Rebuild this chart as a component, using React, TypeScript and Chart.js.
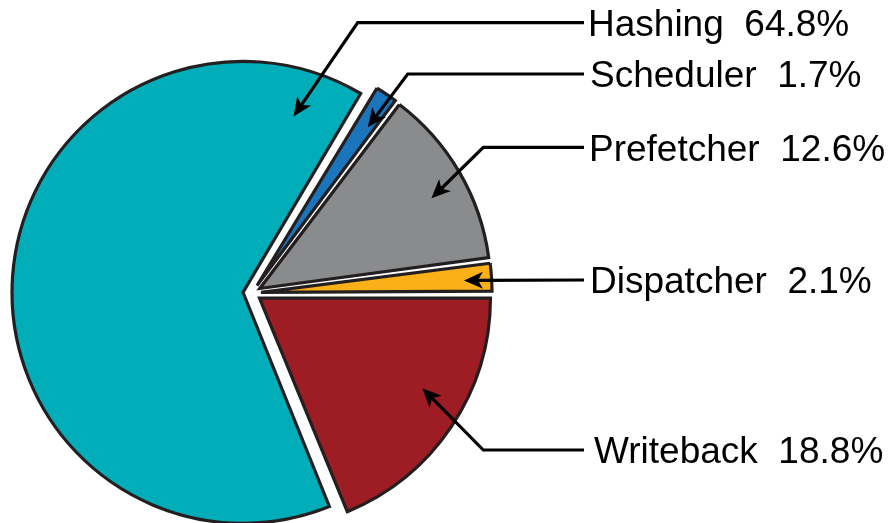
import React, { useEffect, useRef } from "react";
import { Chart, registerables } from "chart.js";

Chart.register(...registerables);

// Share of total time per pipeline stage (percent)
const categories = ["Hashing", "Scheduler", "Prefetcher", "Dispatcher", "Writeback"];
const shares = [64.8, 1.7, 12.6, 2.1, 18.8];
const sliceColors = ["#00adb9", "#1b75bc", "#8a8b8d", "#fbb017", "#9e1c23"];

// Callout layout: where each arrow lands inside its slice, and where its label sits
const calloutSweep = [0.936, 0.658, 0.556, 0.553, 0.428]; // fraction along the slice's sweep
const calloutDepth = [0.824, 0.866, 0.849, 0.911, 0.808]; // fraction of the radius
const elbowX: (number | null)[] = [357.7, 407.7, 483.3, null, 483.3];
const labelLineY = [22.7, 74, 147.3, 280, 450];
const labelX = [588, 590, 589, 590, 594];

const WIDTH = 895;
const HEIGHT = 523;
const RADIUS = 231;
const EXPLODE = 36; // Chart.js shifts each arc by offset / 4
const LINE_END_X = 584;
const FONT_SIZE = 37;

// Chart.js grows the radius of offset arcs depending on their sweep;
// pull it back so every slice keeps the same radius.
const evenRadius = {
  id: "evenRadius",
  afterDatasetUpdate(_chart: Chart, args: any) {
    const shift = EXPLODE / 4;
    for (const el of args.meta.data as any[]) {
      const fix = 1 - Math.sin(Math.min(Math.PI, el.circumference || 0));
      el.outerRadius -= shift * fix;
    }
  },
};

// Arrows from each label to its slice, plus the label text
const callouts = {
  id: "callouts",
  afterDraw(chart: Chart) {
    const ctx = chart.ctx;
    const meta = chart.getDatasetMeta(0);
    const shift = EXPLODE / 4;
    ctx.save();
    ctx.strokeStyle = "#000";
    ctx.fillStyle = "#000";
    ctx.lineWidth = 3.2;
    ctx.lineJoin = "miter";
    ctx.lineCap = "butt";
    meta.data.forEach((el: any, i: number) => {
      const mid = (el.startAngle + el.endAngle) / 2;
      const ax = el.x + Math.cos(mid) * shift;
      const ay = el.y + Math.sin(mid) * shift;
      const ang = el.startAngle + calloutSweep[i] * (el.endAngle - el.startAngle);
      const r = calloutDepth[i] * el.outerRadius;
      const tx = ax + Math.cos(ang) * r;
      const ty = ay + Math.sin(ang) * r;

      const y = labelLineY[i];
      const ex = elbowX[i];
      const fromX = ex === null ? LINE_END_X : ex;
      const fromY = y;
      const len = Math.hypot(tx - fromX, ty - fromY);
      const ux = (tx - fromX) / len;
      const uy = (ty - fromY) / len;
      const px = -uy;
      const py = ux;
      const headLen = 19;
      const headHalf = 8.5;
      const notch = 14;

      ctx.beginPath();
      ctx.moveTo(LINE_END_X, y);
      if (ex !== null) ctx.lineTo(ex, y);
      ctx.lineTo(tx - ux * notch, ty - uy * notch);
      ctx.stroke();

      ctx.beginPath();
      ctx.moveTo(tx, ty);
      ctx.lineTo(tx - ux * headLen + px * headHalf, ty - uy * headLen + py * headHalf);
      ctx.lineTo(tx - ux * notch, ty - uy * notch);
      ctx.lineTo(tx - ux * headLen - px * headHalf, ty - uy * headLen - py * headHalf);
      ctx.closePath();
      ctx.fill();

      ctx.font = `${FONT_SIZE}px "Liberation Sans", Arial, Helvetica, sans-serif`;
      ctx.textAlign = "left";
      ctx.textBaseline = "alphabetic";
      ctx.fillText(
        `${categories[i]}  ${shares[i].toFixed(1)}%`,
        labelX[i],
        y + FONT_SIZE * 0.716 / 2
      );
    });
    ctx.restore();
  },
};

export default function App() {
  const canvasRef = useRef<HTMLCanvasElement | null>(null);

  useEffect(() => {
    if (!canvasRef.current) return;
    const total = shares.reduce((a, b) => a + b, 0);
    // Writeback (last slice) begins at 3 o'clock; the rest follow clockwise
    const rotation = 90 + (360 * shares[shares.length - 1]) / total;

    const chart = new Chart(canvasRef.current, {
      type: "pie",
      data: {
        labels: categories,
        datasets: [
          {
            data: shares,
            backgroundColor: sliceColors,
            borderColor: "#231f20",
            borderWidth: 3.2,
            borderJoinStyle: "miter",
            offset: EXPLODE,
            radius: RADIUS,
            clip: false,
          } as any,
        ],
      },
      options: {
        responsive: false,
        animation: false,
        devicePixelRatio: 1,
        events: [],
        rotation,
        layout: { padding: { left: 0, top: 63, right: WIDTH - 504, bottom: 0 } },
        plugins: {
          legend: { display: false },
          tooltip: { enabled: false },
        },
      } as any,
      plugins: [evenRadius, callouts],
    });
    return () => chart.destroy();
  }, []);

  return (
    <div
      style={{
        position: "fixed",
        left: 0,
        top: 0,
        width: WIDTH,
        height: HEIGHT,
        background: "#fff",
      }}
    >
      <canvas
        ref={canvasRef}
        width={WIDTH}
        height={HEIGHT}
        style={{ display: "block", width: WIDTH, height: HEIGHT }}
      />
    </div>
  );
}
